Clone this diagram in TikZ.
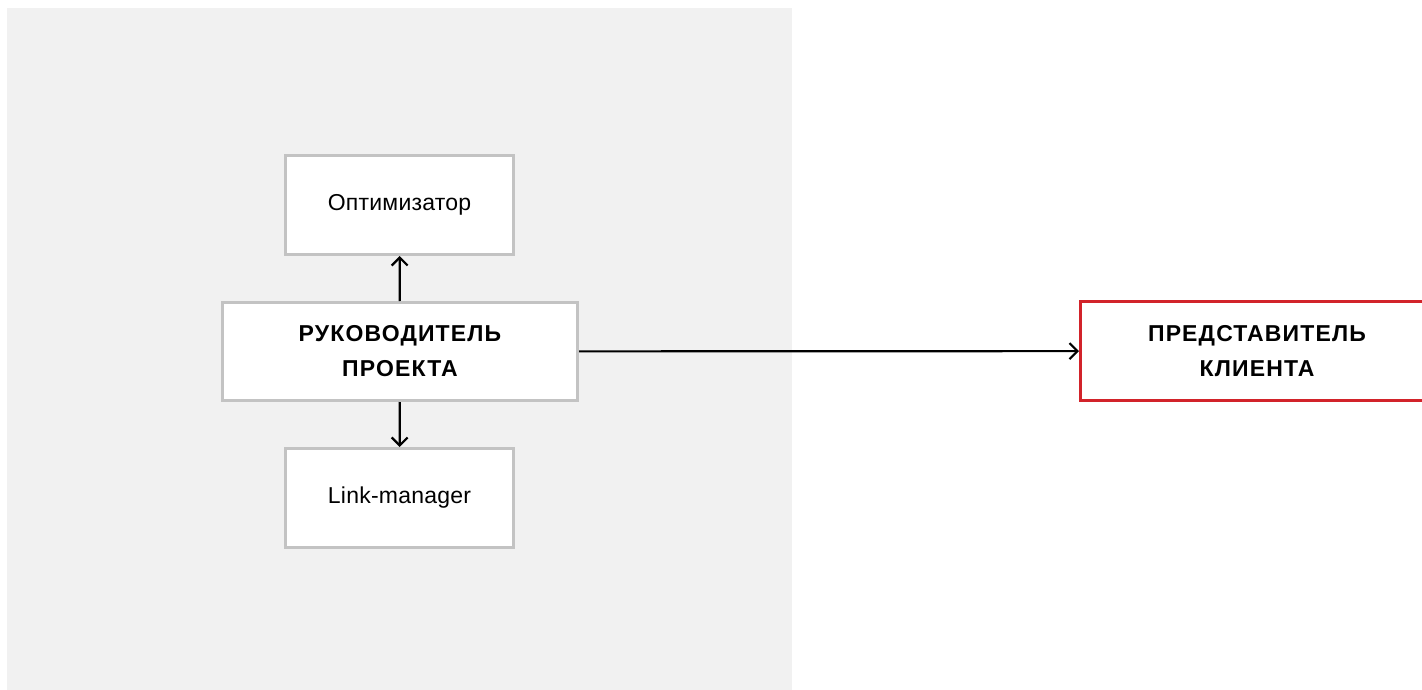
\documentclass[tikz,border=0pt]{standalone}
\usepackage{fontspec}
\setmainfont{Liberation Sans}
\usetikzlibrary{arrows.meta}
\definecolor{panelgray}{HTML}{F1F1F1}
\definecolor{boxgray}{HTML}{C3C3C3}
\definecolor{clientred}{HTML}{D2232A}
\tikzset{
  rolebox/.style={draw=boxgray,line width=3pt,fill=white,align=center,
    minimum width=228pt,minimum height=99pt,
    font=\fontsize{23}{35}\selectfont\addfontfeatures{LetterSpace=1}},
  leadbox/.style={rolebox,minimum width=355pt,minimum height=98pt,
    font=\fontsize{23}{35}\selectfont\bfseries\addfontfeatures{LetterSpace=5}},
  clientbox/.style={leadbox,draw=clientred,minimum width=353pt,minimum height=99pt},
  link/.style={line width=2.2pt,-{Straight Barb[length=8pt,width=16pt]}}
}
\begin{document}
\begin{tikzpicture}[x=1pt,y=-1pt]
\useasboundingbox (0,0) rectangle (1422,690);
\fill[panelgray] (7,8) rectangle (792,690);

\node[rolebox] (opt) at (399.5,205) {Оптимизатор};
\node[leadbox] (lead) at (400,351.5) {РУКОВОДИТЕЛЬ\\ПРОЕКТА};
\node[rolebox] (link) at (399.5,498) {Link-manager};
\node[clientbox] (client) at (1257,351) {ПРЕДСТАВИТЕЛЬ\\КЛИЕНТА};

\draw[link] (lead) -- (opt);
\draw[link] (lead) -- (link);
\draw[link] (lead) -- (client);
\end{tikzpicture}
\end{document}
